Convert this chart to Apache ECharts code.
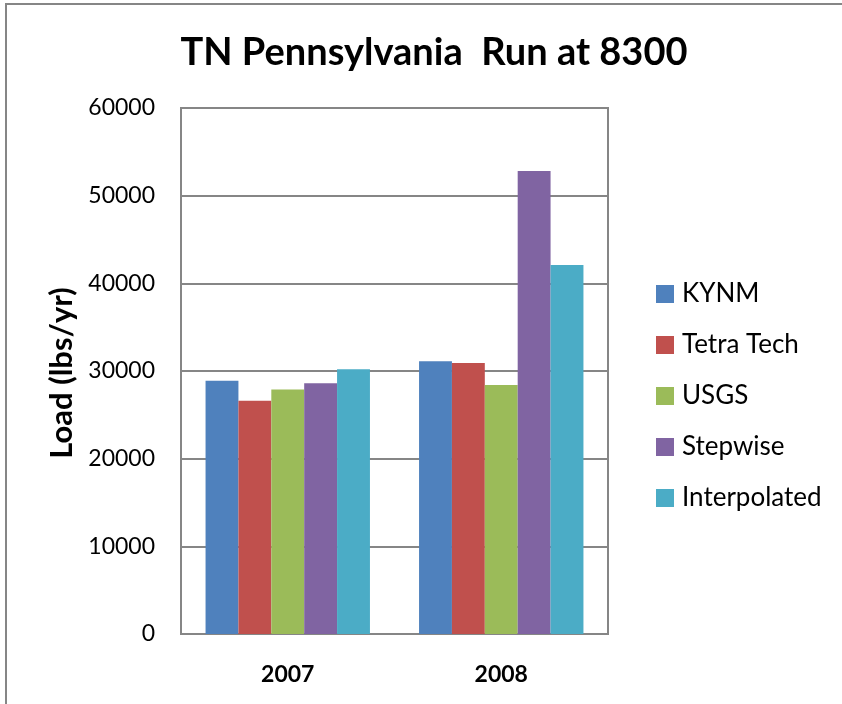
<!DOCTYPE html>
<html>
<head>
<meta charset="utf-8">
<script src="https://cdn.jsdelivr.net/npm/echarts@6/dist/echarts.min.js"></script>
<style>
  html, body { margin: 0; padding: 0; background: #fff; }
  #chart { width: 842px; height: 704px; }
</style>
</head>
<body>
<div id="chart"></div>
<script>
// Annual TN load estimates by method
const years = ['2007', '2008'];
const seriesNames = ['KYNM', 'Tetra Tech', 'USGS', 'Stepwise', 'Interpolated'];
const kynm = [28900, 31100];
const tetraTech = [26600, 30900];
const usgs = [27900, 28400];
const stepwise = [28600, 52800];
const interpolated = [30200, 42100];
const yTicks = [0, 10000, 20000, 30000, 40000, 50000, 60000];

const values = [kynm, tetraTech, usgs, stepwise, interpolated];
const colors = ['#4F81BD', '#C0504D', '#9BBB59', '#8064A2', '#4BACC6'];
const font = 'Lato, "Open Sans", sans-serif';

const chart = echarts.init(document.getElementById('chart'));
chart.setOption({
  animation: false,
  title: {
    text: 'TN Pennsylvania  Run at 8300',
    left: 429,
    top: 29,
    textAlign: 'center',
    textStyle: { fontFamily: font, fontWeight: 'bold', fontSize: 38, color: '#000' }
  },
  legend: {
    orient: 'vertical',
    left: 651,
    top: 276,
    itemWidth: 18,
    itemHeight: 18,
    itemGap: 25,
    icon: 'rect',
    textStyle: { fontFamily: font, fontSize: 26, color: '#000', padding: [0, 0, 0, 3] },
    data: seriesNames
  },
  grid: { left: 181, top: 108, right: 234, bottom: 70, show: true, borderColor: '#868686', borderWidth: 2 },
  xAxis: {
    type: 'category',
    data: years,
    axisLine: { show: true, lineStyle: { color: '#868686', width: 2 } },
    axisTick: { show: false },
    axisLabel: { fontFamily: font, fontWeight: 'bold', fontSize: 23, color: '#000', margin: 29 }
  },
  yAxis: {
    type: 'value',
    min: yTicks[0],
    max: yTicks[yTicks.length - 1],
    interval: 10000,
    axisLine: { show: true, lineStyle: { color: '#868686', width: 2 } },
    axisTick: { show: false },
    splitLine: { lineStyle: { color: '#868686', width: 2 } },
    axisLabel: {
      fontFamily: font, fontSize: 23, color: '#000', margin: 26,
      formatter: v => String(v)
    }
  },
  graphic: [{
    type: 'rect',
    shape: { x: 6, y: 4, width: 860, height: 720 },
    style: { fill: 'none', stroke: '#868686', lineWidth: 2 },
    silent: true
  }, {
    // vertical y-axis title
    type: 'text',
    x: 62,
    y: 373,
    rotation: Math.PI / 2,
    silent: true,
    style: {
      text: 'Load (lbs/yr)',
      fontFamily: font,
      fontWeight: 'bold',
      fontSize: 31,
      fill: '#000',
      align: 'center',
      verticalAlign: 'middle'
    }
  }],
  series: seriesNames.map((name, i) => ({
    name: name,
    type: 'bar',
    data: values[i],
    barGap: '0%',
    barCategoryGap: '23%',
    itemStyle: { color: colors[i] }
  }))
});
</script>
</body>
</html>
